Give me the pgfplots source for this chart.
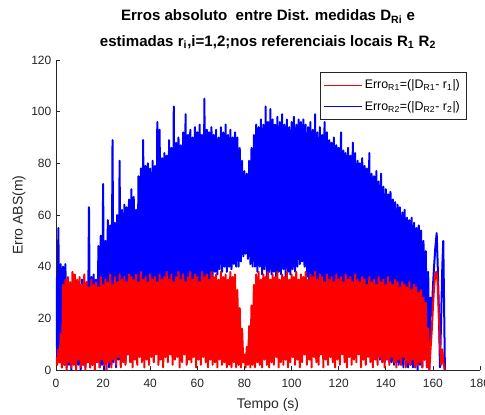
\documentclass[border=0pt]{standalone}
\usepackage{fontspec}
\setmainfont{Liberation Sans}
\usepackage{pgfplots}
\pgfplotsset{compat=1.18}
\definecolor{axgray}{rgb}{0.15,0.15,0.15}
\begin{document}
\begin{tikzpicture}
\begin{axis}[
 at={(0,0)}, anchor=south west,
 scale only axis, width=318pt, height=232.5pt,
 xmin=0, xmax=180, ymin=0, ymax=120,
 xtick={0,20,...,180}, ytick={0,20,...,120},
 axis lines=left, axis line style={-, axgray, line width=0.5pt},
 tick align=inside, major tick length=3pt, tick style={axgray, line width=0.5pt},
 ticklabel style={font=\fontsize{9}{10}\selectfont, text=axgray},
 xticklabel style={yshift=-3pt},
 /pgf/number format/assume math mode=true,
 xlabel={Tempo (s)}, ylabel={Erro ABS(m)},
 label style={font=\fontsize{10.5}{12}\selectfont, text=axgray},
 xlabel style={at={(axis description cs:0.5,-0.113)}, anchor=center},
 ylabel style={at={(axis description cs:-0.0875,0.5)}, anchor=center},
 title={Erros absoluto\ \ entre Dist. medidas D\textsubscript{Ri} e\\estimadas r\textsubscript{i},i=1,2;nos referenciais locais R\textsubscript{1} R\textsubscript{2}},
 title style={font=\bfseries\fontsize{11.3}{19}\selectfont, align=center, at={(axis description cs:0.5,1)}, anchor=south, yshift=-1pt},
 legend style={at={(axis description cs:0.969,0.961)}, anchor=north east, draw=axgray, line width=0.5pt, font=\fontsize{9.3}{10}\selectfont, inner xsep=3pt, inner ysep=3.5pt, row sep=4pt},
 legend cell align=left,
 legend image code/.code={\draw[#1] (0pt,0pt) -- (28pt,0pt);},
]
\addlegendimage{red, line width=0.6pt}
\addlegendentry{Erro\textsubscript{R1}=(|D\textsubscript{R1}- r\textsubscript{1}|)}
\addlegendimage{blue, line width=0.6pt}
\addlegendentry{Erro\textsubscript{R2}=(|D\textsubscript{R2}- r\textsubscript{2}|)}
\addplot[blue, line width=1.5pt, line join=round, forget plot] coordinates {
(0,36)(0.5,4)(1,55)(1.5,3)(2,41)(2.5,1)(3,40)(3.5,2)(4,41)(4.5,1)
(5,35)(5.5,2)(6,34)(6.5,0)(7,33)(7.5,3)(8,34)(8.5,1)(9,32)(9.5,2)
(10,33)(10.5,0)(11,35)(11.5,2)(12,31)(12.5,1)(13,34)(13.5,3)(14,63)(14.5,1)
(15,36)(15.5,2)(16,37)(16.5,0)(17,35)(17.5,3)(18,48)(18.5,1)(19,52)(19.5,2)
(20,72)(20.5,0)(21,50)(21.5,3)(22,58)(22.5,1)(23,56)(23.5,2)(24,89)(24.5,3)
(25,57)(25.5,1)(26,60)(26.5,4)(27,81)(27.5,2)(28,62)(28.5,5)(29,64)(29.5,3)
(30,63)(30.5,6)(31,66)(31.5,4)(32,70)(32.5,8)(33,67)(33.5,6)(34,62)(34.5,10)
(35,75)(35.5,8)(36,78)(36.5,12)(37,89)(37.5,9)(38,79)(38.5,14)(39,80)(39.5,11)
(40,78)(40.5,15)(41,81)(41.5,12)(42,79)(42.5,16)(43,96)(43.5,14)(44,93)(44.5,18)
(45,82)(45.5,15)(46,84)(46.5,19)(47,83)(47.5,16)(48,89)(48.5,20)(49,86)(49.5,17)
(50,102)(50.5,21)(51,88)(51.5,18)(52,90)(52.5,22)(53,87)(53.5,20)(54,92)(54.5,23)
(55,99)(55.5,21)(56,91)(56.5,24)(57,93)(57.5,22)(58,90)(58.5,25)(59,94)(59.5,23)
(60,92)(60.5,27)(61,95)(61.5,25)(62,91)(62.5,28)(63,105)(63.5,26)(64,93)(64.5,30)
(65,92)(65.5,33)(66,94)(66.5,36)(67,91)(67.5,38)(68,93)(68.5,37)(69,90)(69.5,39)
(70,94)(70.5,38)(71,92)(71.5,40)(72,95)(72.5,38)(73,91)(73.5,40)(74,93)(74.5,39)
(75,90)(75.5,41)(76,92)(76.5,40)(77,90)(77.5,40)(78,86)(78.5,42)(79,81)(79.5,44)
(80,77)(80.5,45)(81,76)(81.5,43)(82,81)(82.5,41)(83,86)(83.5,40)(84,91)(84.5,40)
(85,95)(85.5,38)(86,94)(86.5,40)(87,97)(87.5,37)(88,95)(88.5,39)(89,102)(89.5,36)
(90,96)(90.5,38)(91,101)(91.5,37)(92,97)(92.5,38)(93,95)(93.5,36)(94,98)(94.5,38)
(95,96)(95.5,37)(96,99)(96.5,39)(97,95)(97.5,36)(98,97)(98.5,38)(99,94)(99.5,37)
(100,96)(100.5,39)(101,98)(101.5,38)(102,95)(102.5,40)(103,97)(103.5,41)(104,96)(104.5,42)
(105,97)(105.5,40)(106,95)(106.5,36)(107,94)(107.5,33)(108,96)(108.5,30)(109,93)(109.5,28)
(110,99)(110.5,26)(111,92)(111.5,24)(112,94)(112.5,23)(113,91)(113.5,21)(114,96)(114.5,20)
(115,92)(115.5,19)(116,89)(116.5,18)(117,88)(117.5,17)(118,90)(118.5,16)(119,87)(119.5,15)
(120,86)(120.5,14)(121,92)(121.5,13)(122,85)(122.5,12)(123,84)(123.5,12)(124,86)(124.5,11)
(125,83)(125.5,10)(126,88)(126.5,10)(127,84)(127.5,9)(128,81)(128.5,9)(129,80)(129.5,8)
(130,82)(130.5,8)(131,79)(131.5,7)(132,78)(132.5,7)(133,84)(133.5,6)(134,76)(134.5,6)
(135,75)(135.5,5)(136,77)(136.5,5)(137,73)(137.5,4)(138,76)(138.5,4)(139,71)(139.5,3)
(140,70)(140.5,4)(141,68)(141.5,3)(142,69)(142.5,3)(143,66)(143.5,2)(144,65)(144.5,3)
(145,64)(145.5,2)(146,63)(146.5,2)(147,61)(147.5,1)(148,62)(148.5,2)(149,59)(149.5,1)
(150,58)(150.5,2)(151,59)(151.5,1)(152,57)(152.5,1)(153,55)(153.5,0)(154,56)(154.5,2)
(155,54)(155.5,1)(156,50)(156.5,4)(157,46)(157.5,1)(158,38)(158.5,0)(159,28)(159.5,21)
(160,32)(160.5,40)(161,47)(161.6,53)(162,42)(162.5,25)(163,1)(163.5,20)(164,40)(164.4,50)
(164.8,22)(165.1,0)
};
\addplot[red, line width=1.5pt, line join=round, forget plot] coordinates {
(0,5)(0.5,2)(1,8)(1.5,3)(2,14)(2.5,1)(3,33)(3.5,2)(4,35)(4.5,0)
(5,36)(5.5,3)(6,34)(6.5,1)(7,38)(7.5,2)(8,37)(8.5,0)(9,35)(9.5,4)
(10,36)(10.5,1)(11,33)(11.5,2)(12,37)(12.5,0)(13,34)(13.5,3)(14,32)(14.5,1)
(15,35)(15.5,2)(16,33)(16.5,0)(17,34)(17.5,3)(18,32)(18.5,1)(19,36)(19.5,4)
(20,33)(20.5,2)(21,35)(21.5,0)(22,34)(22.5,3)(23,37)(23.5,1)(24,33)(24.5,4)
(25,36)(25.5,2)(26,34)(26.5,5)(27,37)(27.5,1)(28,35)(28.5,3)(29,36)(29.5,2)
(30,34)(30.5,6)(31,37)(31.5,3)(32,36)(32.5,1)(33,35)(33.5,4)(34,37)(34.5,2)
(35,34)(35.5,5)(36,38)(36.5,3)(37,35)(37.5,1)(38,36)(38.5,4)(39,34)(39.5,2)
(40,37)(40.5,5)(41,35)(41.5,3)(42,36)(42.5,6)(43,34)(43.5,2)(44,37)(44.5,4)
(45,35)(45.5,1)(46,36)(46.5,5)(47,38)(47.5,3)(48,35)(48.5,6)(49,37)(49.5,2)
(50,34)(50.5,4)(51,36)(51.5,5)(52,38)(52.5,1)(53,35)(53.5,3)(54,37)(54.5,6)
(55,34)(55.5,2)(56,36)(56.5,4)(57,38)(57.5,3)(58,35)(58.5,5)(59,37)(59.5,1)
(60,36)(60.5,4)(61,34)(61.5,2)(62,38)(62.5,5)(63,36)(63.5,3)(64,37)(64.5,1)
(65,35)(65.5,4)(66,38)(66.5,2)(67,36)(67.5,3)(68,37)(68.5,1)(69,35)(69.5,4)
(70,38)(70.5,2)(71,36)(71.5,3)(72,37)(72.5,1)(73,35)(73.5,2)(74,38)(74.5,1)
(75,36)(75.5,3)(76,37)(76.5,1)(77,31)(77.5,2)(78,24)(78.5,1)(79,16)(79.5,3)
(80,6)(80.5,1)(81,9)(81.5,2)(82,17)(82.5,1)(83,25)(83.5,2)(84,33)(84.5,1)
(85,37)(85.5,3)(86,38)(86.5,2)(87,35)(87.5,1)(88,37)(88.5,4)(89,36)(89.5,2)
(90,38)(90.5,1)(91,35)(91.5,3)(92,37)(92.5,2)(93,36)(93.5,5)(94,38)(94.5,1)
(95,35)(95.5,3)(96,37)(96.5,2)(97,36)(97.5,4)(98,38)(98.5,1)(99,35)(99.5,3)
(100,37)(100.5,5)(101,36)(101.5,2)(102,38)(102.5,4)(103,35)(103.5,1)(104,37)(104.5,3)
(105,36)(105.5,6)(106,38)(106.5,2)(107,35)(107.5,4)(108,37)(108.5,1)(109,36)(109.5,5)
(110,38)(110.5,3)(111,35)(111.5,2)(112,37)(112.5,6)(113,36)(113.5,1)(114,34)(114.5,4)
(115,37)(115.5,2)(116,35)(116.5,5)(117,36)(117.5,3)(118,34)(118.5,1)(119,37)(119.5,4)
(120,35)(120.5,2)(121,36)(121.5,6)(122,34)(122.5,3)(123,37)(123.5,1)(124,35)(124.5,5)
(125,36)(125.5,2)(126,34)(126.5,4)(127,37)(127.5,3)(128,35)(128.5,6)(129,34)(129.5,1)
(130,36)(130.5,4)(131,35)(131.5,2)(132,33)(132.5,5)(133,36)(133.5,3)(134,34)(134.5,1)
(135,35)(135.5,4)(136,33)(136.5,2)(137,36)(137.5,5)(138,34)(138.5,3)(139,35)(139.5,1)
(140,33)(140.5,4)(141,36)(141.5,2)(142,34)(142.5,5)(143,33)(143.5,3)(144,35)(144.5,1)
(145,34)(145.5,4)(146,32)(146.5,2)(147,34)(147.5,5)(148,33)(148.5,1)(149,32)(149.5,3)
(150,34)(150.5,2)(151,31)(151.5,4)(152,33)(152.5,1)(153,32)(153.5,2)(154,30)(154.5,3)
(155,31)(155.5,1)(156,28)(156.5,4)(157,26)(157.5,1)(158,16)(158.5,0)(159,8)(159.5,15)
(160,24)(160.5,32)(161,37)(161.5,38)(162,34)(162.5,22)(163,10)(163.5,2)(164,8)(164.5,3)
(165,0)
};
\end{axis}
\pgfresetboundingbox
\useasboundingbox (-42pt,-33pt) rectangle (321.75pt,277.5pt);
\end{tikzpicture}
\end{document}
